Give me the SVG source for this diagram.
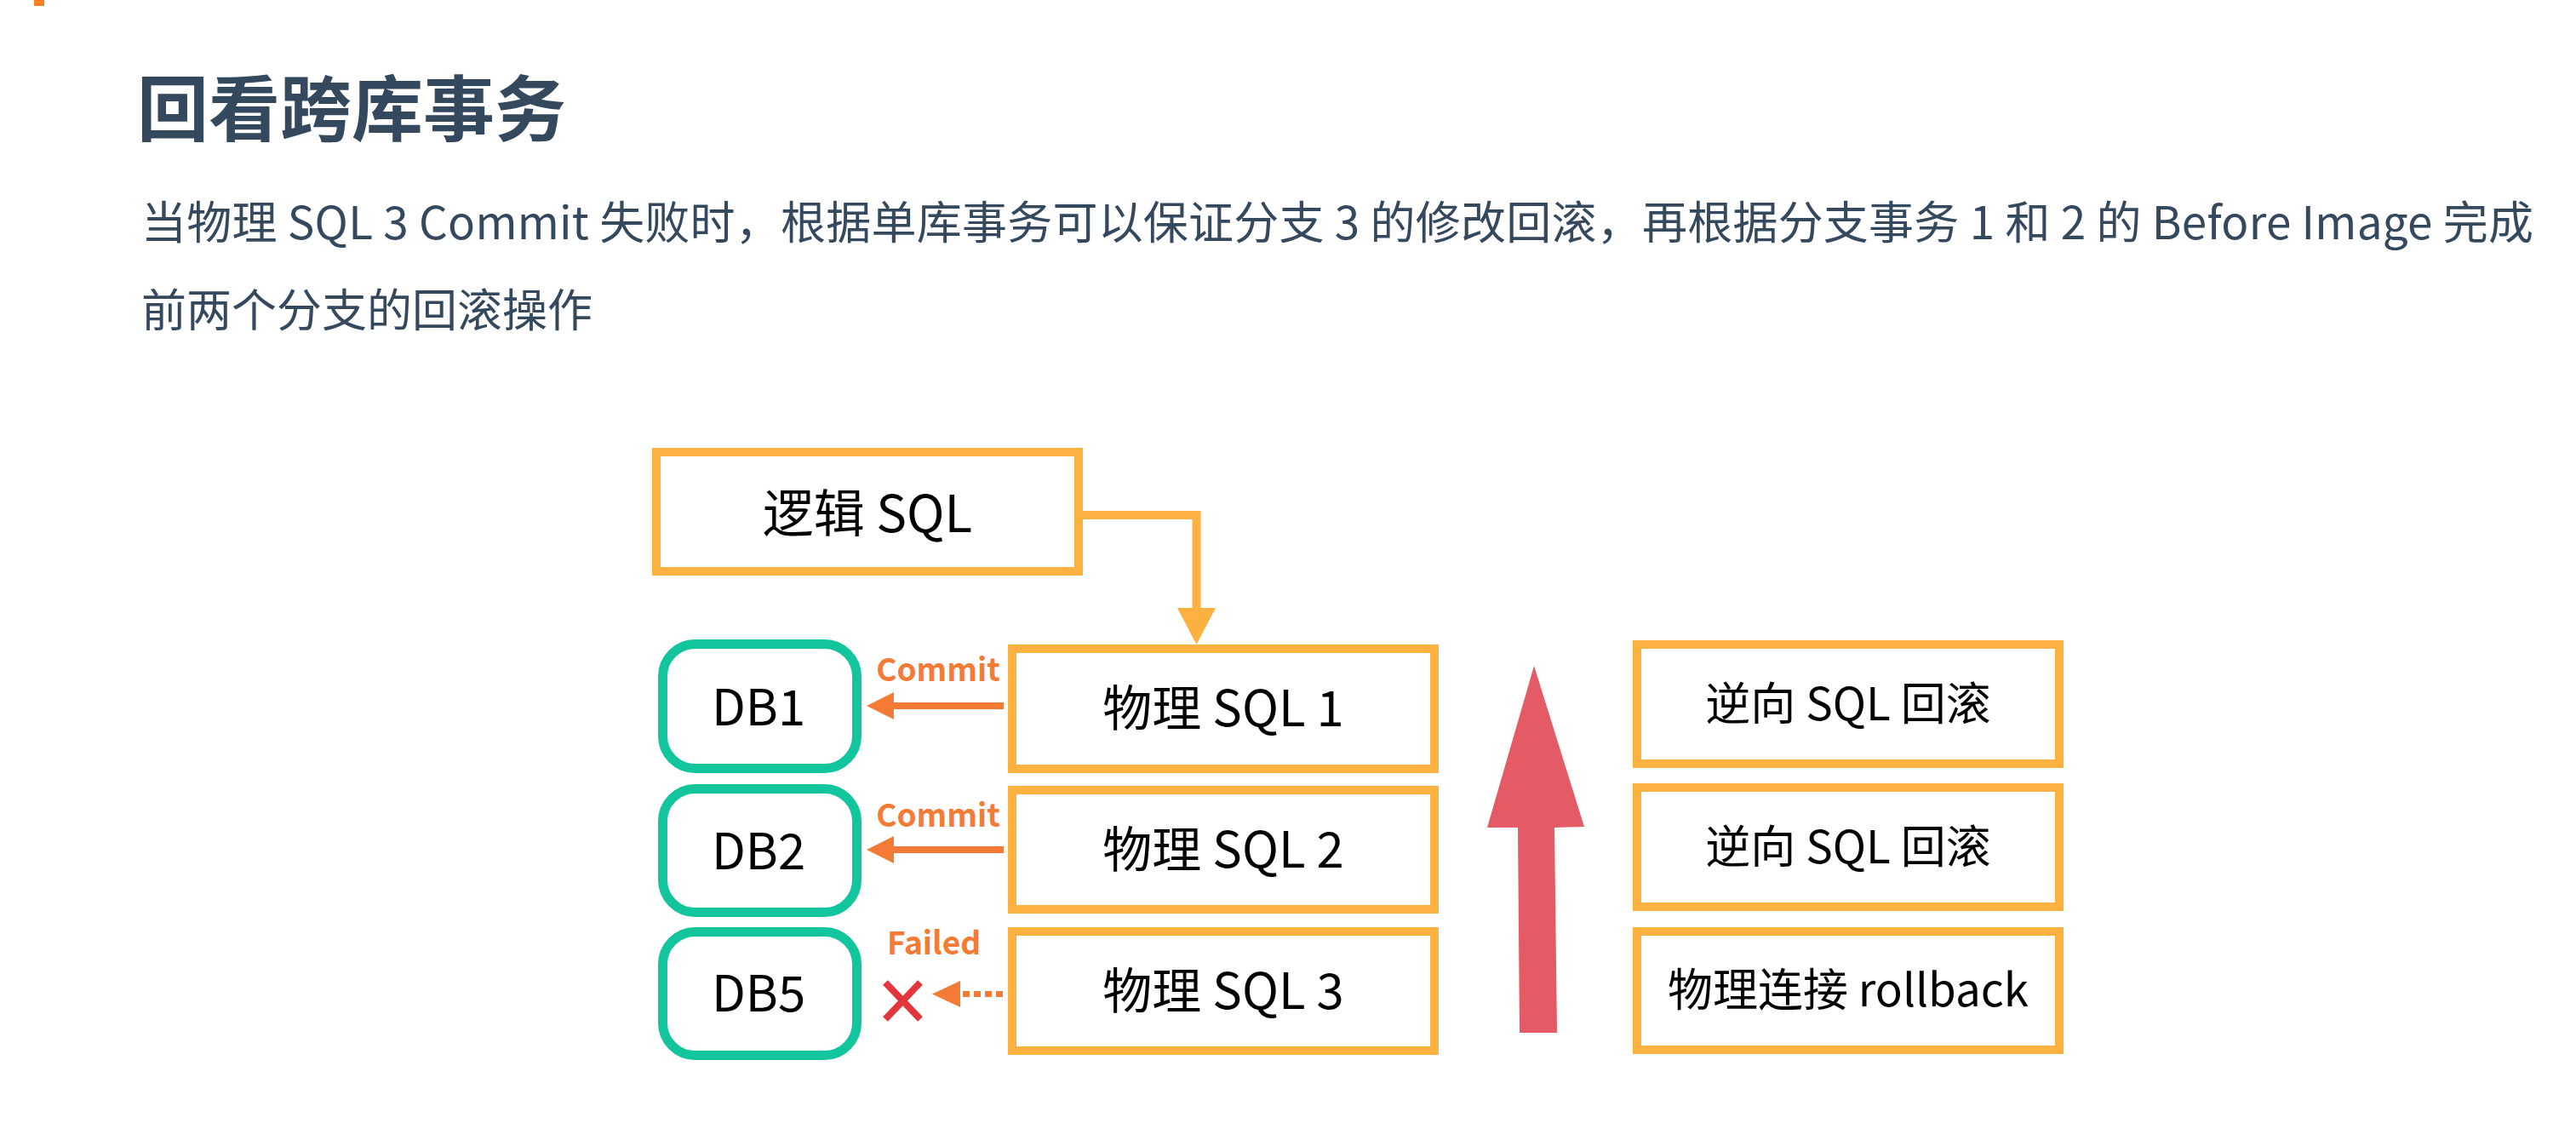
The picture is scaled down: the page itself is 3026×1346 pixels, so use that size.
<svg xmlns="http://www.w3.org/2000/svg" width="3026" height="1346" viewBox="0 0 3026 1346">
<style>
.t{font-family:"Noto Sans CJK SC","Noto Sans",sans-serif;}
.title{font-size:84px;font-weight:bold;fill:#34495E;}
.sub{font-size:53px;fill:#34495E;}
.box{fill:#FFFFFF;stroke:#FDB140;stroke-width:10;}
.db{fill:#FFFFFF;stroke:#12C59C;stroke-width:11;}
.lbl{font-size:58px;fill:#000000;text-anchor:middle;}
.rlbl{font-size:53px;fill:#000000;text-anchor:middle;}
.edge{font-size:37px;font-weight:bold;fill:#F47B36;text-anchor:middle;}
.ln{stroke:#F47B36;stroke-width:8;fill:none;}
.hd{fill:#F47B36;}
</style>
<rect width="3026" height="1346" fill="#FFFFFF"/>
<rect x="40" y="0" width="12" height="7" fill="#FF7F1E"/>
<text class="t title" x="161" y="159">回看跨库事务</text>
<text class="t sub" x="166" y="281" textLength="2810" lengthAdjust="spacing">当物理 SQL 3 Commit 失败时，根据单库事务可以保证分支 3 的修改回滚，再根据分支事务 1 和 2 的 Before Image 完成</text>
<text class="t sub" x="166" y="384">前两个分支的回滚操作</text>

<g id="logic-sql">
<rect class="box" x="771" y="531" width="496" height="140"/>
<text class="t lbl" x="1019" y="625" style="font-size:60px">逻辑 SQL</text>
</g>
<g id="db1">
<rect class="db" x="778.5" y="756.5" width="228" height="146" rx="38" ry="38"/>
<text class="t lbl" x="891" y="852">DB1</text>
</g>
<g id="db2">
<rect class="db" x="778.5" y="926.5" width="228" height="145" rx="38" ry="38"/>
<text class="t lbl" x="891" y="1021">DB2</text>
</g>
<g id="db5">
<rect class="db" x="778.5" y="1094.5" width="228" height="145" rx="38" ry="38"/>
<text class="t lbl" x="891" y="1188">DB5</text>
</g>
<g id="phys-sql-1">
<rect class="box" x="1189" y="762" width="496" height="141"/>
<text class="t lbl" x="1437" y="853">物理 SQL 1</text>
</g>
<g id="phys-sql-2">
<rect class="box" x="1189" y="928" width="496" height="140"/>
<text class="t lbl" x="1437" y="1019">物理 SQL 2</text>
</g>
<g id="phys-sql-3">
<rect class="box" x="1189" y="1094" width="496" height="140"/>
<text class="t lbl" x="1437" y="1185">物理 SQL 3</text>
</g>
<g id="rollback-1">
<rect class="box" x="1923" y="757" width="496" height="140"/>
<text class="t rlbl" x="2171" y="846">逆向 SQL 回滚</text>
</g>
<g id="rollback-2">
<rect class="box" x="1923" y="925" width="496" height="140"/>
<text class="t rlbl" x="2171" y="1014">逆向 SQL 回滚</text>
</g>
<g id="rollback-3">
<rect class="box" x="1923" y="1094" width="496" height="139"/>
<text class="t rlbl" x="2171" y="1182">物理连接 rollback</text>
</g>

<g id="connectors">
<polyline points="1267,605 1405.5,605 1405.5,716" fill="none" stroke="#FDB140" stroke-width="10"/>
<polygon points="1383,714 1428,714 1405.5,757" fill="#FDB140"/>
<line class="ln" x1="1179" y1="829" x2="1048" y2="829"/>
<polygon class="hd" points="1018,829 1050,813 1050,845"/>
<text class="t edge" x="1102" y="800">Commit</text>
<line class="ln" x1="1179" y1="998" x2="1048" y2="998"/>
<polygon class="hd" points="1018,998 1050,982 1050,1014"/>
<text class="t edge" x="1102" y="971">Commit</text>
<line x1="1178" y1="1167.5" x2="1129" y2="1167.5" stroke="#F47B36" stroke-width="7" stroke-dasharray="8 5"/>
<polygon class="hd" points="1095,1167.5 1128,1152 1128,1183"/>
<text class="t edge" x="1097" y="1121">Failed</text>
<line x1="1040" y1="1154" x2="1081" y2="1197" stroke="#E2363C" stroke-width="8"/>
<line x1="1081" y1="1154" x2="1040" y2="1197" stroke="#E2363C" stroke-width="8"/>
<polygon points="1802,782 1861,971 1826,972 1829,1213 1785,1213 1783,972 1747,972" fill="#E45B66"/>
</g>
</svg>
